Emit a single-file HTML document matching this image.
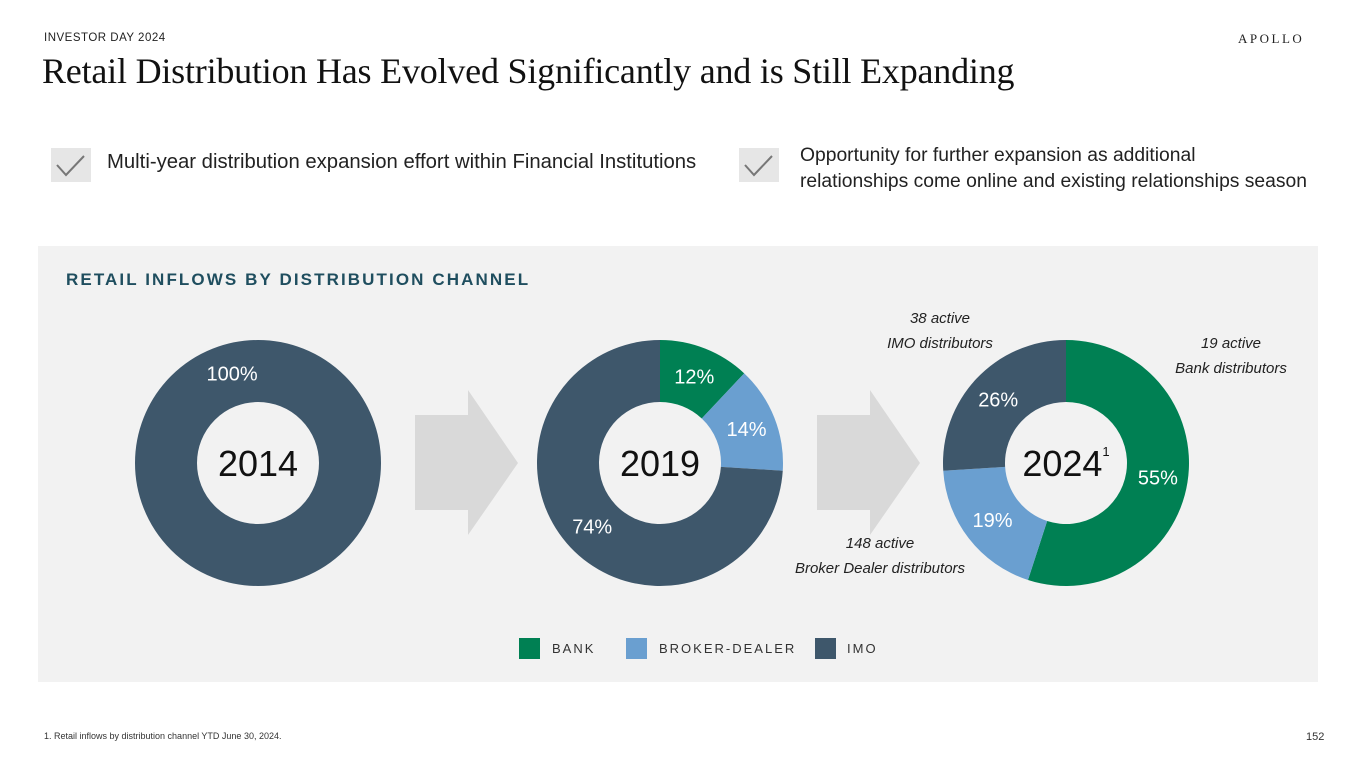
<!DOCTYPE html>
<html><head><meta charset="utf-8"><style>
body{margin:0;width:1365px;height:768px;background:#fff;position:relative;overflow:hidden;font-family:"Liberation Sans",sans-serif;}
.abs{position:absolute;}
.chk{position:absolute;width:40px;height:34px;background:#e6e6e6;}
</style></head><body>
<div class="abs" style="left:44px;top:32px;font-size:11.5px;letter-spacing:0.5px;color:#222">INVESTOR DAY 2024</div>
<div class="abs" style="left:1238px;top:31px;font-family:'Liberation Serif',serif;font-size:13px;letter-spacing:2.5px;color:#222">APOLLO</div>
<div class="abs" style="left:42px;top:50px;font-family:'Liberation Serif',serif;font-size:36px;color:#111;letter-spacing:-0.2px">Retail Distribution Has Evolved Significantly and is Still Expanding</div>
<div class="chk" style="left:51px;top:148px"><svg width="40" height="34"><polyline points="6,17 15,27 33,8" fill="none" stroke="#777" stroke-width="2"/></svg></div>
<div class="abs" style="left:107px;top:151px;font-size:20.3px;color:#222;white-space:nowrap">Multi-year distribution expansion effort within Financial Institutions</div>
<div class="chk" style="left:739px;top:148px"><svg width="40" height="34"><polyline points="6,17 15,27 33,8" fill="none" stroke="#777" stroke-width="2"/></svg></div>
<div class="abs" style="left:800px;top:143px;font-size:19.3px;color:#222;line-height:26px;white-space:nowrap">Opportunity for further expansion as additional<br>relationships come online and existing relationships season</div>
<div class="abs" style="left:38px;top:246px;width:1280px;height:436px;background:#f2f2f2"></div>
<div class="abs" style="left:66px;top:270px;font-size:17px;font-weight:bold;letter-spacing:2.1px;color:#1f4e5f">RETAIL INFLOWS BY DISTRIBUTION CHANNEL</div>
<svg id="chart" class="abs" style="left:0;top:0" width="1365" height="768"></svg>
<div class="abs" style="left:872px;top:306px;font-size:15px;font-style:italic;color:#222;text-align:center;line-height:25px;width:136px">38 active<br>IMO distributors</div>
<div class="abs" style="left:1159px;top:331px;font-size:15px;font-style:italic;color:#222;text-align:center;line-height:25px;width:144px">19 active<br>Bank distributors</div>
<div class="abs" style="left:778px;top:531px;font-size:15px;font-style:italic;color:#222;text-align:center;line-height:25px;width:204px">148 active<br>Broker Dealer distributors</div>
<div class="abs" style="left:519px;top:638px;font-size:13px;letter-spacing:2px;color:#333">
<span class="abs" style="left:0;top:0;width:21px;height:21px;background:#008053"></span><span class="abs" style="left:33px;top:3px">BANK</span>
<span class="abs" style="left:107px;top:0;width:21px;height:21px;background:#6a9fd0"></span><span class="abs" style="left:140px;top:3px;white-space:nowrap">BROKER-DEALER</span>
<span class="abs" style="left:296px;top:0;width:21px;height:21px;background:#3e576b"></span><span class="abs" style="left:328px;top:3px">IMO</span>
</div>
<div class="abs" style="left:44px;top:731px;font-size:9px;color:#333">1. Retail inflows by distribution channel YTD June 30, 2024.</div>
<div class="abs" style="left:1306px;top:731px;font-size:11px;color:#333">152</div>
<script>
const years=['2014','2019','2024'];
const bank=[0,12,55];
const broker=[0,14,19];
const imo=[100,74,26];
const colors=['#008053','#6a9fd0','#3e576b'];
const names=['bank','broker','imo'];
const cxs=[258,660,1066], cy=463, R=123, r=61;
const svg=document.getElementById('chart');
const NS='http://www.w3.org/2000/svg';
function pt(cx,rad,f){const a=f*2*Math.PI;return [cx+rad*Math.sin(a),cy-rad*Math.cos(a)];}
[415,817].forEach((x,i)=>{const p=document.createElementNS(NS,'polygon');
p.setAttribute('points',`${x},415 ${x+53},415 ${x+53},390 ${x+103},463 ${x+53},535 ${x+53},510 ${x},510`);
p.setAttribute('fill','#d9d9d9');


svg.appendChild(p);});
years.forEach((y,i)=>{
 const vals=[bank[i],broker[i],imo[i]];const tot=vals.reduce((a,b)=>a+b,0);let acc=0;const cx=cxs[i];
 vals.forEach((v,j)=>{ if(v<=0) return; const f0=acc/tot,f1=(acc+v)/tot; acc+=v;
  let el;
  if(f1-f0>=0.9999){el=document.createElementNS(NS,'circle');el.setAttribute('cx',cx);el.setAttribute('cy',cy);el.setAttribute('r',(R+r)/2);el.setAttribute('fill','none');el.setAttribute('stroke',colors[j]);el.setAttribute('stroke-width',R-r);}
  else{const [x0,y0]=pt(cx,R,f0),[x1,y1]=pt(cx,R,f1),[x2,y2]=pt(cx,r,f1),[x3,y3]=pt(cx,r,f0);const lg=(f1-f0)>0.5?1:0;
   el=document.createElementNS(NS,'path');el.setAttribute('d',`M${x0},${y0}A${R},${R} 0 ${lg} 1 ${x1},${y1}L${x2},${y2}A${r},${r} 0 ${lg} 0 ${x3},${y3}Z`);el.setAttribute('fill',colors[j]);}
  
  
  svg.appendChild(el);
  const fm=(f1-f0)>=0.9999?-0.045:(f0+f1)/2;const [lx,ly]=pt(cx,93,fm);
  const t=document.createElementNS(NS,'text');t.setAttribute('x',lx);t.setAttribute('y',ly+7);t.setAttribute('text-anchor','middle');t.setAttribute('fill','#fff');t.setAttribute('font-size','20');t.setAttribute('font-family','Liberation Sans, sans-serif');t.textContent=v+'%';
  
  
  svg.appendChild(t);
 });
 const t=document.createElementNS(NS,'text');t.setAttribute('x',cx);t.setAttribute('y',cy+13);t.setAttribute('text-anchor','middle');t.setAttribute('font-size','36');t.setAttribute('fill','#111');t.setAttribute('font-family','Liberation Sans, sans-serif');t.textContent=y;
 if(y==='2024'){const s=document.createElementNS(NS,'tspan');s.setAttribute('font-size','13');s.setAttribute('dy','-20');s.textContent='1';t.appendChild(s);}
 
 
 svg.appendChild(t);
});
</script>
</body></html>
